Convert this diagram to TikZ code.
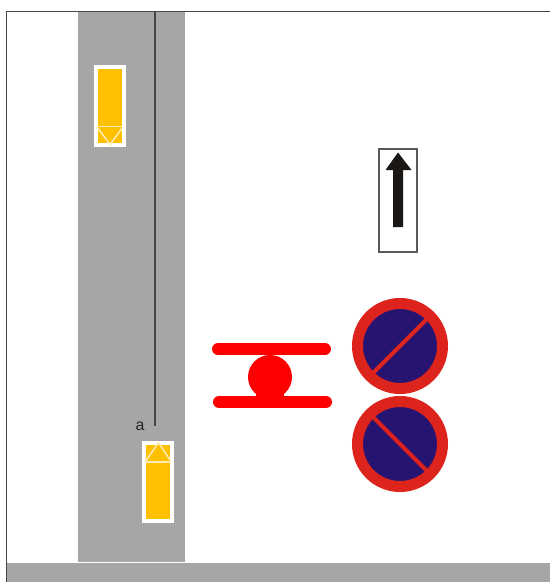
\documentclass[tikz,border=0pt]{standalone}
\usepackage{fontspec}
\setmainfont{Liberation Sans}
\definecolor{roadgrey}{RGB}{166,166,166}
\definecolor{truckyellow}{RGB}{255,192,0}
\definecolor{signred}{RGB}{220,35,28}
\definecolor{signblue}{RGB}{38,20,112}
\definecolor{markred}{RGB}{255,0,0}
\definecolor{framegrey}{RGB}{70,70,70}
\definecolor{arrowblack}{RGB}{26,23,20}
\tikzset{
  frameline/.style={draw=framegrey,line width=1.9pt},
  truckbody/.style={fill=truckyellow,draw=white,line width=3.4pt},
  truckmark/.style={draw=white!70!truckyellow,line width=1.5pt},
  signdisc/.style={circle,fill=signblue,draw=signred,line width=11pt,minimum size=85pt,inner sep=0pt,outer sep=0pt},
  signbar/.style={draw=signred,line width=4.2pt},
  markbar/.style={draw=markred,line width=12pt,line cap=round}
}
\begin{document}
\begin{tikzpicture}[x=1pt,y=-1pt]
\useasboundingbox (0,0) rectangle (550,582);
\fill[white] (0,0) rectangle (550,582);
% road and cross street
\fill[roadgrey] (78,11) rectangle (185,562);
\fill[roadgrey] (7,562.5) rectangle (550,582);
% frame
\draw[frameline] (6.5,582) -- (6.5,11.5) -- (550,11.5);
% centre line
\coordinate (linetop) at (155,11.5);
\coordinate (lineend) at (155,426);
\draw[draw=framegrey,line width=1.1pt] (linetop) -- (lineend);
\node[text=black!85,font=\fontsize{16}{18}\selectfont,inner sep=0pt] (labela) at (140,426) {a};
% upper truck
\draw[truckbody] (96,67) rectangle (124,145);
\draw[truckmark] (97,126.5) -- (123,126.5);
\draw[truckmark] (97,127) -- (110,144.5) -- (123,127);
% lower truck
\draw[truckbody] (144,443) rectangle (172,521);
\draw[truckmark] (145,462) -- (171,462);
\draw[truckmark] (145.5,461.5) -- (158.5,442.5) -- (171,461.5);
% no-parking signs
\node[signdisc] (signa) at (400,346) {};
\node[signdisc] (signb) at (400,444) {};
\draw[signbar] (signa.center) ++(-29,29) -- ++(58,-58);
\draw[signbar] (signb.center) ++(-29,-29) -- ++(58,58);
% red marking
\draw[markbar] (218,349) -- (325,349);
\draw[markbar] (219,402) -- (326,402);
\fill[markred] (270,377) circle (22);
\fill[markred] (256,392) -- (284,392) -- (284,400) -- (256,400) -- cycle;
% arrow sign
\draw[draw=black!65,line width=2pt] (378.5,148.5) rectangle (416.5,252);
\fill[arrowblack] (398,152.5) -- (411.5,170) -- (403,170) -- (403,227) -- (393,227) -- (393,170) -- (385.5,170) -- cycle;
\end{tikzpicture}
\end{document}
